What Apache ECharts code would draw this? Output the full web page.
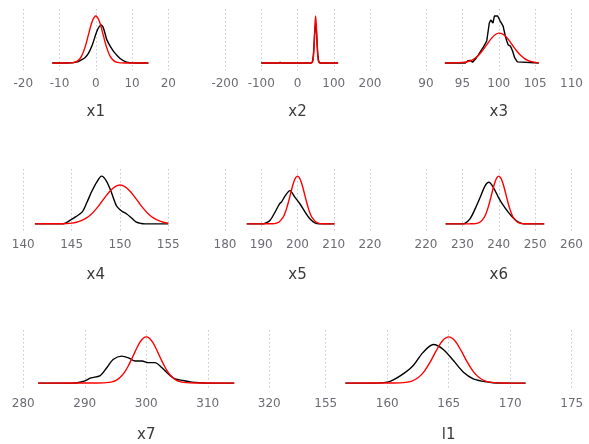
<!DOCTYPE html>
<html><head><meta charset="utf-8">
<script src="https://cdn.jsdelivr.net/npm/echarts@6/dist/echarts.min.js"></script>
<style>html,body{margin:0;padding:0;background:#fff}#c{width:589px;height:444px}</style>
</head><body><div id="c"></div><script>
// ---- data ----
const panelNames = ['x1','x2','x3','x4','x5','x6','x7','l1'];
const axisMin  = [-20,-200, 90,140,180,220,280,155];
const axisMax  = [ 20, 200,110,155,220,260,320,175];
const axisStep = [ 10, 100,  5,  5, 10, 10, 10,  5];

const black_x1 = [[-12,0],[-8,0],[-7,0.0005],[-6,0.002],[-5,0.005],[-4,0.013],[-3,0.022],[-2,0.042],[-1,0.075],[0,0.122],[0.5,0.142],[1,0.155],[1.5,0.161],[2,0.152],[2.5,0.128],[3,0.10],[4,0.07],[5,0.047],[6,0.03],[7,0.016],[8,0.007],[9,0.002],[10,0.0005],[11,0],[14.5,0]];
const red_x1   = [[-12,0],[-8,0],[-7,0.0004],[-6,0.0022],[-5,0.0088],[-4,0.027],[-3,0.065],[-2,0.121],[-1,0.176],[0,0.199],[1,0.176],[2,0.121],[3,0.065],[4,0.027],[5,0.0088],[6,0.0022],[7,0.0004],[8,0],[14.5,0]];

const black_x2 = [[-100,0],[-50,0],[-48,0.002],[-46,0],[36,0],[38,0.0003],[40,0.002],[42,0.008],[44,0.025],[46,0.058],[48,0.093],[50,0.11],[52,0.093],[54,0.058],[56,0.025],[58,0.008],[60,0.002],[62,0.0003],[64,0],[112,0]];
const red_x2   = [[-100,0],[38,0],[40,0.0005],[42,0.0037],[44,0.018],[46,0.055],[48,0.106],[50,0.133],[52,0.106],[54,0.055],[56,0.018],[58,0.0037],[60,0.0005],[62,0],[112,0]];

const black_x3 = [[92.6,0],[95.4,0],[95.8,0.018],[96.1,0.02],[96.4,0.006],[96.8,0.03],[97.2,0.061],[97.9,0.122],[98.35,0.167],[98.7,0.304],[98.9,0.327],[99.2,0.304],[99.4,0.357],[99.6,0.342],[99.85,0.357],[100.2,0.319],[100.4,0.327],[100.6,0.281],[100.9,0.205],[101.1,0.167],[101.3,0.137],[101.6,0.129],[101.9,0.091],[102.2,0.038],[102.55,0.008],[102.8,0],[105.5,0]];
const red_x3   = [[92.6,0],[94,0.0005],[95,0.0033],[95.5,0.0072],[96,0.015],[96.5,0.028],[97,0.047],[97.5,0.076],[98,0.112],[98.5,0.150],[99,0.187],[99.5,0.215],[100,0.227],[100.5,0.222],[101,0.2],[101.5,0.166],[102,0.126],[102.5,0.089],[103,0.058],[103.5,0.035],[104,0.019],[104.5,0.0097],[105,0.0045],[105.5,0.0018]];

const black_x4 = [[141.2,0],[143.9,0],[144.3,0.003],[144.8,0.019],[145.4,0.040],[146.1,0.069],[146.6,0.126],[147.1,0.189],[147.6,0.241],[148.1,0.275],[148.6,0.247],[149.1,0.184],[149.65,0.103],[150.2,0.073],[150.7,0.057],[151.2,0.034],[151.7,0.010],[152.2,0.002],[152.6,0],[155,0]];
const red_x4   = [[141.2,0],[143,0.0003],[144,0.00076],[144.5,0.0019],[145,0.0043],[145.5,0.0092],[146,0.018],[146.5,0.0325],[147,0.054],[147.5,0.0836],[148,0.119],[148.5,0.157],[149,0.191],[149.5,0.215],[150,0.224],[150.5,0.215],[151,0.191],[151.5,0.157],[152,0.119],[152.5,0.0836],[153,0.054],[153.5,0.0325],[154,0.018],[154.5,0.0092],[155,0.0043]];

const black_x5 = [[186,0],[190.5,0],[191,0.002],[192.4,0.014],[193.8,0.049],[195,0.083],[195.6,0.092],[196.6,0.117],[197.9,0.139],[199.3,0.111],[200.7,0.083],[202.1,0.049],[203.4,0.021],[204.8,0.004],[206,0],[210.2,0]];
const red_x5   = [[186,0],[192,0.0001],[193,0.00044],[194,0.0022],[195,0.0088],[196,0.027],[196.5,0.0431],[197,0.0648],[197.5,0.0913],[198,0.121],[198.5,0.151],[199,0.176],[199.5,0.193],[200,0.1995],[200.5,0.193],[201,0.176],[201.5,0.151],[202,0.121],[202.5,0.0913],[203,0.0648],[203.5,0.0431],[204,0.027],[205,0.0088],[206,0.0022],[207,0.00044],[208,0.0001],[210.2,0]];

const black_x6 = [[225.4,0],[230,0],[230.7,0.002],[232.1,0.021],[233.5,0.0625],[234.9,0.111],[236.2,0.158],[237.3,0.174],[238.5,0.153],[239.9,0.111],[241.3,0.076],[242.6,0.049],[244,0.024],[245.4,0.007],[246.5,0.001],[247.5,0],[252.5,0]];
const red_x6   = [[225.4,0],[232,0.0001],[233,0.00044],[234,0.0022],[235,0.0088],[236,0.027],[236.5,0.0431],[237,0.0648],[237.5,0.0913],[238,0.121],[238.5,0.151],[239,0.176],[239.5,0.193],[240,0.1995],[240.5,0.193],[241,0.176],[241.5,0.151],[242,0.121],[242.5,0.0913],[243,0.0648],[243.5,0.0431],[244,0.027],[245,0.0088],[246,0.0022],[247,0.00044],[248,0.0001],[252.5,0]];

const black_x7 = [[282.4,0],[288,0],[288.8,0.0012],[289.9,0.008],[291,0.0214],[292.5,0.031],[293.6,0.0646],[294.6,0.098],[296,0.112],[297.1,0.105],[298.2,0.0917],[299.3,0.0917],[300.3,0.085],[301.4,0.085],[302.5,0.0646],[303.6,0.0376],[304.7,0.0174],[306,0.0109],[307.4,0.004],[308.7,0.0012],[310,0],[314.3,0]];
const red_x7   = [[282.4,0],[292,0.0001],[293,0.00067],[294,0.003],[294.5,0.0058],[295,0.0107],[295.5,0.0185],[296,0.0302],[296.5,0.0466],[297,0.0678],[297.5,0.0931],[298,0.121],[298.5,0.148],[299,0.171],[299.5,0.1863],[300,0.1918],[300.5,0.1863],[301,0.171],[301.5,0.148],[302,0.121],[302.5,0.0931],[303,0.0678],[303.5,0.0466],[304,0.0302],[304.5,0.0185],[305,0.0107],[305.5,0.0058],[306,0.003],[307,0.00067],[308,0.0001],[314.3,0]];

const black_l1 = [[156.6,0],[159,0],[160,0.007],[160.5,0.023],[161.3,0.066],[162.1,0.125],[162.9,0.219],[163.75,0.277],[164.56,0.242],[165.4,0.160],[166.2,0.078],[167,0.030],[167.8,0.012],[168.6,0.002],[169.5,0],[171.25,0]];
const red_l1   = [[156.6,0],[160,0.0001],[160.5,0.0003],[161,0.0013],[161.5,0.0047],[162,0.0146],[162.5,0.0379],[163,0.0828],[163.5,0.152],[164,0.2347],[164.5,0.3045],[165,0.332],[165.5,0.3045],[166,0.2347],[166.5,0.152],[167,0.0828],[167.5,0.0379],[168,0.0146],[168.5,0.0047],[169,0.0013],[169.5,0.0003],[170,0],[171.25,0]];

const blackSeries = [black_x1,black_x2,black_x3,black_x4,black_x5,black_x6,black_x7,black_l1];
const redSeries   = [red_x1,red_x2,red_x3,red_x4,red_x5,red_x6,red_x7,red_l1];

// ---- layout ----
const gridLeft   = [23.3,225,426, 23.3,225,426, 23.3,325.7];
const gridWidth  = [145,145,145.5, 145,145,145.5, 246,246];
const gridTop    = [9,9,9, 169,169,169, 330,330];
const gridHeight = [61,61,61, 62,62,62, 61,61];
const nameGaps   = [34.5,34.5,34.5, 36.5,36.5,36.5, 38,38];
const smoothing  = [0.3,0.2,false,0.3,0.3,0.3,0.3,0.3];

const FONT = 'DejaVu Sans';
const grids = [], xAxes = [], yAxes = [], series = [];
panelNames.forEach((name, i) => {
  grids.push({left: gridLeft[i], top: gridTop[i], width: gridWidth[i], height: gridHeight[i], containLabel: false});
  xAxes.push({
    type: 'value', gridIndex: i, min: axisMin[i], max: axisMax[i], interval: axisStep[i],
    name: name, nameLocation: 'middle', nameGap: nameGaps[i],
    nameTextStyle: {fontFamily: FONT, fontSize: 15, color: '#3a3a3a'},
    axisLine: {show: false}, axisTick: {show: false},
    axisLabel: {fontFamily: FONT, fontSize: 12, color: '#6b6b73', margin: 8},
    splitLine: {show: true, lineStyle: {type: [1.5, 2.5], color: '#c6c6d8', width: 1}}
  });
  const peak = Math.max(...blackSeries[i].map(p => p[1]), ...redSeries[i].map(p => p[1]));
  yAxes.push({type: 'value', gridIndex: i, min: -0.15 * peak, max: 1.15 * peak, show: false, splitLine: {show: false}});
  series.push({type: 'line', xAxisIndex: i, yAxisIndex: i, data: blackSeries[i], showSymbol: false,
    smooth: smoothing[i], lineStyle: {color: '#000000', width: 1.4}, silent: true, animation: false});
  series.push({type: 'line', xAxisIndex: i, yAxisIndex: i, data: redSeries[i], showSymbol: false,
    smooth: 0.3, lineStyle: {color: '#ff0000', width: 1.4}, silent: true, animation: false});
});

const chart = echarts.init(document.getElementById('c'), null, {renderer: 'canvas'});
chart.setOption({backgroundColor: '#ffffff', animation: false, grid: grids, xAxis: xAxes, yAxis: yAxes, series: series});
</script></body></html>
